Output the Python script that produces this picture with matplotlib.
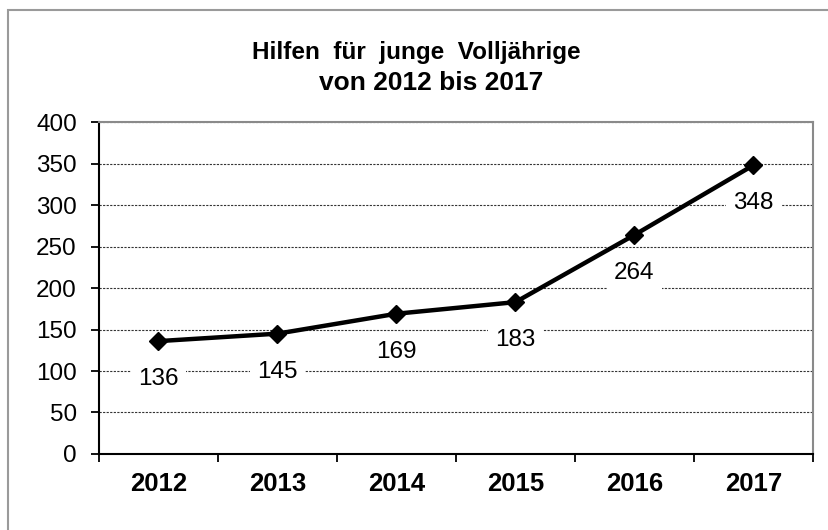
"""Line chart: Hilfen für junge Volljährige 2012-2017."""

import matplotlib

matplotlib.use("Agg")
import matplotlib.pyplot as plt
from matplotlib.patches import Rectangle

years = ["2012", "2013", "2014", "2015", "2016", "2017"]
cases = [136, 145, 169, 183, 264, 348]
y_ticks = [0, 50, 100, 150, 200, 250, 300, 350, 400]

plt.rcParams["font.family"] = ["Liberation Sans", "DejaVu Sans"]

figure = plt.figure(figsize=(8.29, 5.30), dpi=100)
axis = figure.add_axes([0.1194, 0.1434, 0.8613, 0.6264])

# outer chart frame (runs off the right and bottom edge)
figure.patches.append(
    Rectangle((8 / 829, -0.2), 1.2, 1.2 - 10 / 530, transform=figure.transFigure,
              fill=False, edgecolor="#9a9a9a", linewidth=1.5, clip_on=False)
)

positions = list(range(len(years)))
axis.plot(positions, cases, color="black", linewidth=3.2, marker="D",
          markersize=9.5, zorder=4)

for x, value in zip(positions, cases):
    axis.annotate(str(value), (x, value), xytext=(0, -27.5), textcoords="offset points",
                  ha="center", va="center", fontsize=17.5,
                  bbox=dict(boxstyle="square,pad=0.3", facecolor="white", edgecolor="none"),
                  zorder=3)

axis.set_xlim(-0.5, len(years) - 0.5)
axis.set_ylim(0, 400)
axis.set_yticks(y_ticks)
axis.tick_params(axis="y", direction="out", length=6, width=1.3, pad=10, labelsize=17.5)

axis.set_xticks([p - 0.5 for p in positions] + [len(years) - 0.5])
axis.set_xticklabels([])
axis.set_xticks(positions, minor=True)
axis.set_xticklabels(years, minor=True, fontsize=18.5, fontweight="bold")
axis.tick_params(axis="x", which="major", direction="out", length=6, width=1.3)
axis.tick_params(axis="x", which="minor", length=0, pad=13)

axis.grid(True, axis="y", which="major", color="#333333", linestyle=(0, (2, 1.2)),
          linewidth=0.8)
axis.set_axisbelow(True)

for side in ("left", "bottom"):
    axis.spines[side].set_color("black")
    axis.spines[side].set_linewidth(1.5)
for side in ("top", "right"):
    axis.spines[side].set_color("#8a8a8a")
    axis.spines[side].set_linewidth(1.5)

figure.text(0.502, 0.888, "Hilfen  für  junge  Volljährige", ha="center", va="baseline",
            fontsize=17.5, fontweight="bold")
figure.text(0.52, 0.830, "von 2012 bis 2017", ha="center", va="baseline",
            fontsize=19, fontweight="bold")

figure.savefig("out.png", dpi=100)
plt.close(figure)
